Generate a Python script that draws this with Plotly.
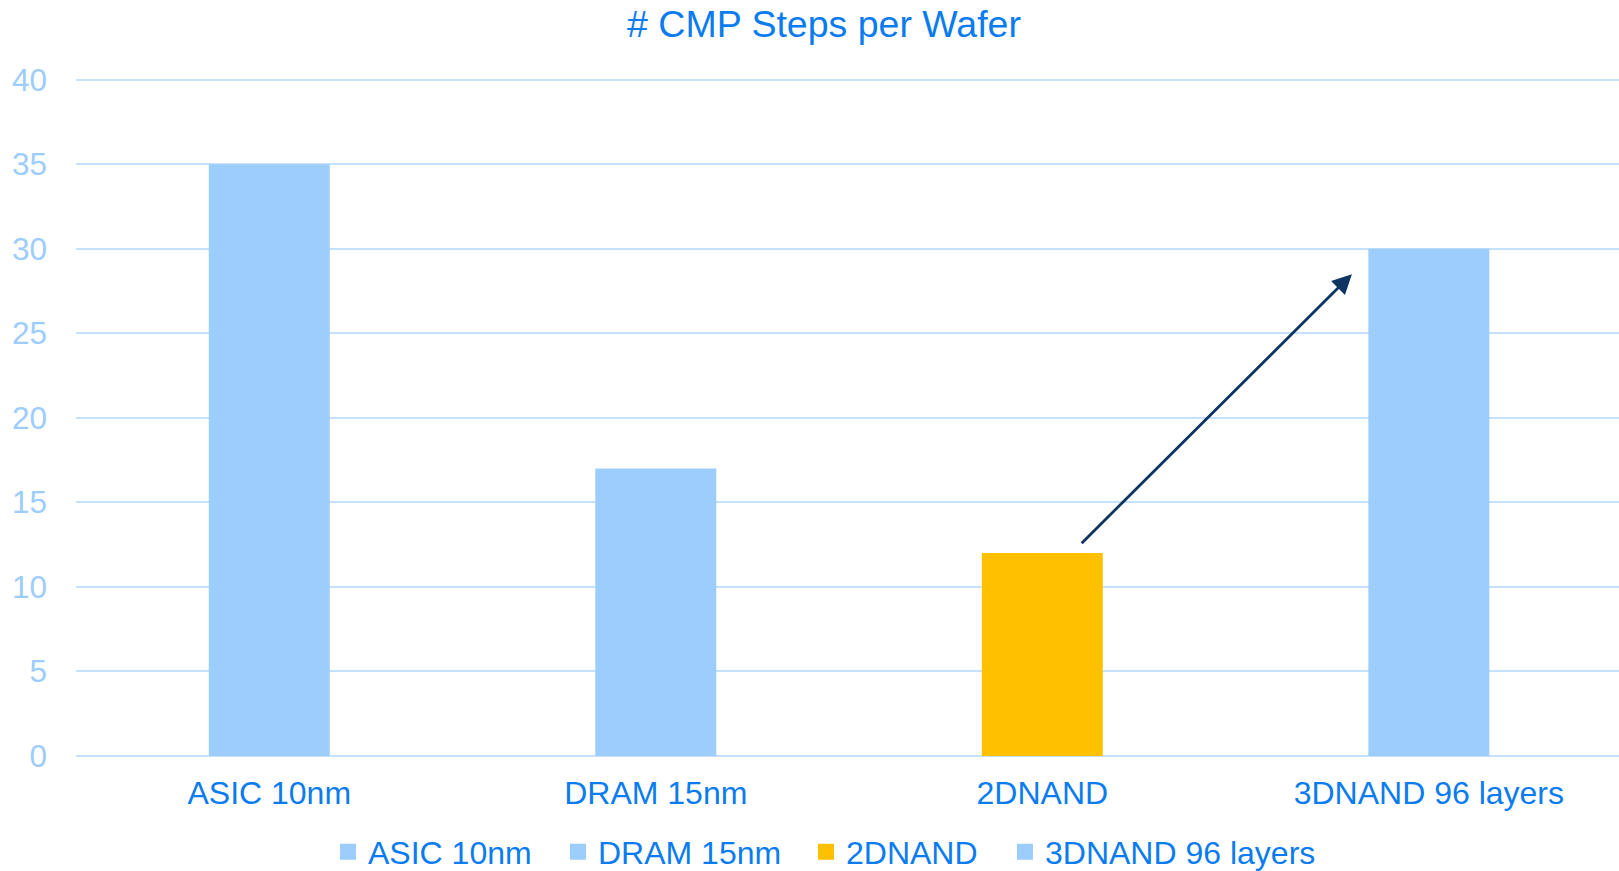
import plotly.graph_objects as go

categories = ["ASIC 10nm", "DRAM 15nm", "2DNAND", "3DNAND 96 layers"]
values = [35, 17, 12, 30]
colors = ["#9dcdfd", "#9dcdfd", "#ffc000", "#9dcdfd"]
y_ticks = [0, 5, 10, 15, 20, 25, 30, 35, 40]
legend_text_left = [369, 599, 847, 1046]  # px, where each legend label starts

fig = go.Figure()
for cat, val, col in zip(categories, values, colors):
    fig.add_trace(go.Bar(x=[cat], y=[val], name=cat, marker_color=col,
                         marker_line_width=0, showlegend=False))
# legend entries with square swatches, each in its own legend box
legend_ids = ["legend", "legend2", "legend3", "legend4"]
for cat, col, lid in zip(categories, colors, legend_ids):
    fig.add_trace(go.Scatter(x=[None], y=[None], mode="markers", name=cat,
                             legend=lid,
                             marker=dict(symbol="square", size=16, color=col)))

# arrow from 2DNAND bar toward 3DNAND bar
fig.add_annotation(x=2.801, y=28.5, ax=2.098, ay=12.5,
                   xref="x", yref="y", axref="x", ayref="y",
                   showarrow=True, arrowhead=2, arrowsize=1.4,
                   arrowwidth=2.8, arrowcolor="#0c3562", text="")

legend_cfg = {}
for lid, tx in zip(legend_ids, legend_text_left):
    legend_cfg[lid] = dict(orientation="h", x=(tx - 41) / 1619, xanchor="left",
                           xref="container", y=1 - 852 / 871, yanchor="middle",
                           yref="container", itemwidth=30,
                           font=dict(size=32, color="#0a7cf0"),
                           bgcolor="rgba(0,0,0,0)")

fig.update_layout(
    width=1619, height=871,
    margin=dict(l=76, r=0, t=78, b=115, autoexpand=False),
    paper_bgcolor="white", plot_bgcolor="white",
    barmode="relative", bargap=0.687,
    font=dict(family="Liberation Sans, Arial, sans-serif", size=32, color="#0a7cf0"),
    title=dict(text="# CMP Steps per Wafer", x=824/1619, xref="container",
               xanchor="center", y=1-24/871, yanchor="middle",
               font=dict(size=37.5, color="#0a7cf0")),
    showlegend=True,
    **legend_cfg,
)
fig.update_xaxes(showgrid=False, showline=False, ticks="",
                 range=[-0.5, 3.492], ticklabelstandoff=15,
                 tickfont=dict(size=32, color="#0a7cf0"))
fig.update_yaxes(range=[0, 40.1], tickvals=y_ticks, showgrid=True,
                 gridcolor="#c6e1fc", gridwidth=2, zeroline=True,
                 zerolinecolor="#c6e1fc", zerolinewidth=2, showline=False,
                 ticks="", ticklabelstandoff=28,
                 tickfont=dict(size=31.5, color="#9dcdfd"))

fig.write_html("out.html", config={"displayModeBar": False},
               post_script="document.body.style.margin='0';document.body.style.padding='0';")
